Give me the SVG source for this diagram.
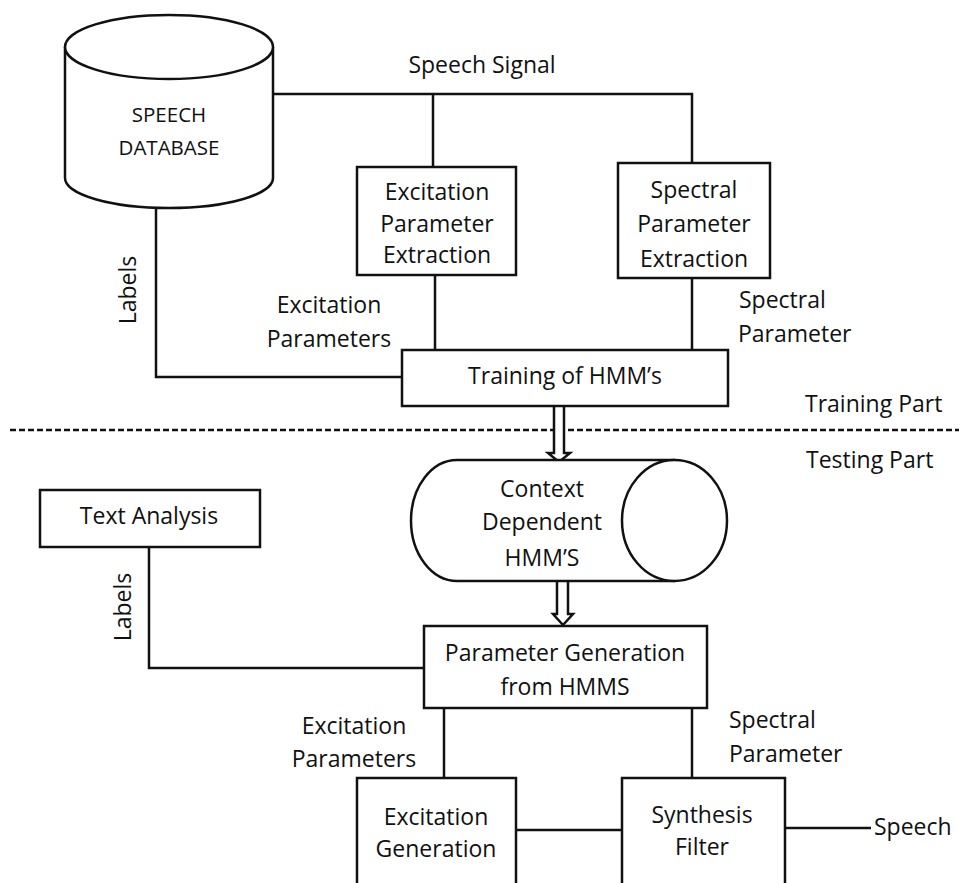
<svg xmlns="http://www.w3.org/2000/svg" width="959" height="883" viewBox="0 0 959 883">
<style>
.s{fill:none;stroke:#111;stroke-width:2.5}
.b{fill:#fff;stroke:#111;stroke-width:2.5}
text{font-family:"Open Sans","Noto Sans","Liberation Sans",sans-serif;font-size:23px;fill:#111}
.m{text-anchor:middle}
.c{font-size:20.5px}
</style>
<rect width="959" height="883" fill="#fff"/>
<g id="connectors">
<polyline class="s" points="273,94 692,94 692,163"/>
<line class="s" x1="433" y1="94" x2="433" y2="167"/>
<line class="s" x1="435" y1="275" x2="435" y2="350"/>
<line class="s" x1="692" y1="278" x2="692" y2="350"/>
<polyline class="s" points="156,207 156,377 402,377"/>
<line x1="10" y1="430" x2="959" y2="430" stroke="#111" stroke-width="2.5" stroke-dasharray="6,3"/>
<polyline class="s" points="149,547 149,668 424,668"/>
<line class="s" x1="444" y1="708" x2="444" y2="778"/>
<line class="s" x1="692" y1="708" x2="692" y2="778"/>
<line class="s" x1="516" y1="830" x2="622" y2="830"/>
<line class="s" x1="785" y1="828" x2="871" y2="828"/>
<path class="b" d="M554,404 L554,453 L548,453 L559,462 L570,453 L564,453 L564,404 Q559,401 554,404 Z"/>
<path class="b" d="M557,577 L557,614 L553,614 L563,625 L573,614 L568,614 L568,577 Q562.5,574 557,577 Z"/>
</g>
<g id="speech-database">
<path class="b" d="M65,47 L65,178 A104,30 0 0 0 273,178 L273,47"/>
<ellipse class="b" cx="169" cy="47" rx="104" ry="32"/>
<text class="m c" x="169" y="122">SPEECH</text>
<text class="m c" x="169" y="155">DATABASE</text>
</g>
<g id="speech-signal-label"><text class="m" x="482" y="73">Speech Signal</text></g>
<g id="excitation-extraction">
<rect class="b" x="357" y="167" width="159" height="108"/>
<text class="m" x="437" y="200">Excitation</text>
<text class="m" x="437" y="232">Parameter</text>
<text class="m" x="437" y="263">Extraction</text>
</g>
<g id="spectral-extraction">
<rect class="b" x="618" y="163" width="152" height="115"/>
<text class="m" x="694" y="198">Spectral</text>
<text class="m" x="694" y="232">Parameter</text>
<text class="m" x="694" y="267">Extraction</text>
</g>
<g id="labels-top"><text class="m" transform="translate(136,290) rotate(-90)">Labels</text></g>
<g id="excitation-params-top">
<text class="m" x="329" y="313">Excitation</text>
<text class="m" x="329" y="347">Parameters</text>
</g>
<g id="spectral-param-top">
<text x="739" y="308">Spectral</text>
<text x="738" y="342">Parameter</text>
</g>
<g id="training-hmm">
<rect class="b" x="402" y="350" width="326" height="56"/>
<text class="m" x="565" y="384">Training of HMM’s</text>
</g>
<g id="part-labels">
<text x="805" y="412">Training Part</text>
<text x="806" y="468">Testing Part</text>
</g>
<g id="context-hmm">
<path class="b" d="M675,460 L457,460 A46,60.5 0 0 0 457,581 L675,581"/>
<ellipse class="b" cx="674.5" cy="520.5" rx="52.5" ry="60.5"/>
<text class="m" x="542" y="497">Context</text>
<text class="m" x="542" y="530">Dependent</text>
<text class="m" x="542" y="566">HMM’S</text>
</g>
<g id="text-analysis">
<rect class="b" x="40" y="490" width="220" height="57"/>
<text class="m" x="149" y="524">Text Analysis</text>
</g>
<g id="labels-bottom"><text class="m" transform="translate(131,607) rotate(-90)">Labels</text></g>
<g id="param-generation">
<rect class="b" x="424" y="626" width="283" height="82"/>
<text class="m" x="565" y="661">Parameter Generation</text>
<text class="m" x="565" y="695">from HMMS</text>
</g>
<g id="excitation-params-bottom">
<text class="m" x="354" y="734">Excitation</text>
<text class="m" x="354" y="767">Parameters</text>
</g>
<g id="spectral-param-bottom">
<text x="729" y="728">Spectral</text>
<text x="729" y="762">Parameter</text>
</g>
<g id="excitation-generation">
<rect class="b" x="357" y="778" width="159" height="120"/>
<text class="m" x="436" y="825">Excitation</text>
<text class="m" x="436" y="857">Generation</text>
</g>
<g id="synthesis-filter">
<rect class="b" x="622" y="778" width="163" height="120"/>
<text class="m" x="702" y="823">Synthesis</text>
<text class="m" x="702" y="855">Filter</text>
</g>
<g id="speech-out"><text x="874" y="835">Speech</text></g>
</svg>
